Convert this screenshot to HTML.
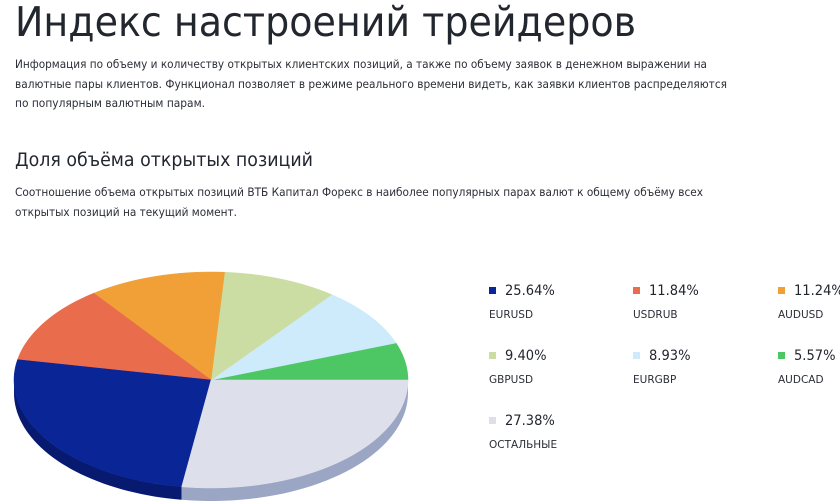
<!DOCTYPE html>
<html><head><meta charset="utf-8"><style>
html,body{margin:0;padding:0;background:#fff;width:840px;height:504px;overflow:hidden}
svg{display:block;font-family:"DejaVu Sans","Liberation Sans",sans-serif}
</style></head><body>
<svg id="c" width="840" height="504" viewBox="0 0 840 504">
<text x="15" y="36" font-size="41" fill="#22262e" textLength="621" lengthAdjust="spacingAndGlyphs">Индекс настроений трейдеров</text>
<g font-size="11.5" fill="#2a2e36">
<text x="15" y="68" textLength="692" lengthAdjust="spacingAndGlyphs">Информация по объему и количеству открытых клиентских позиций, а также по объему заявок в денежном выражении на</text>
<text x="15" y="88" textLength="712" lengthAdjust="spacingAndGlyphs">валютные пары клиентов. Функционал позволяет в режиме реального времени видеть, как заявки клиентов распределяются</text>
<text x="15" y="107" textLength="190" lengthAdjust="spacingAndGlyphs">по популярным валютным парам.</text>
</g>
<text x="15" y="166" font-size="19" fill="#22262e" textLength="298" lengthAdjust="spacingAndGlyphs">Доля объёма открытых позиций</text>
<g font-size="11.5" fill="#2a2e36">
<text x="15" y="196" textLength="688" lengthAdjust="spacingAndGlyphs">Соотношение объема открытых позиций ВТБ Капитал Форекс в наиболее популярных парах валют к общему объёму всех</text>
<text x="15" y="216" textLength="222" lengthAdjust="spacingAndGlyphs">открытых позиций на текущий момент.</text>
</g>
<g id="pie"></g>
<g id="legend"></g>
</svg>
<script>
const labels = ["AUDCAD","EURGBP","GBPUSD","AUDUSD","USDRUB","EURUSD","ОСТАЛЬНЫЕ"];
const values = [5.57, 8.93, 9.40, 11.24, 11.84, 25.64, 27.38];
const topColors = ["#4dc764","#cdebfb","#cbdda3","#f0a037","#e96c4c","#0a2596","#dde0ea"];
const sideColors = ["#3a9c4e","#9fbccc","#a3b382","#c07f2a","#b9553c","#071a70","#9aa6c4"];
const legendOrder = [5,4,3,2,1,0,6];

const NS="http://www.w3.org/2000/svg";
const cx=211, cy=380, rx=197, ry=108, depth=13;
const pie=document.getElementById('pie');
const total=values.reduce((a,b)=>a+b,0);
function pt(t,dy){return [cx+rx*Math.cos(t), cy-ry*Math.sin(t)+(dy||0)];}
const angles=[];let acc=0;
values.forEach(v=>{const a0=acc/total*2*Math.PI;acc+=v;angles.push([a0,acc/total*2*Math.PI]);});
angles.forEach((a,i)=>{
  const s=Math.max(a[0],Math.PI), e=Math.min(a[1],2*Math.PI);
  if(e<=s) return;
  let d='';const n=40;
  for(let k=0;k<=n;k++){const t=s+(e-s)*k/n;const p=pt(t);d+=(k?'L':'M')+p[0].toFixed(2)+' '+p[1].toFixed(2);}
  for(let k=n;k>=0;k--){const t=s+(e-s)*k/n;const p=pt(t,depth);d+='L'+p[0].toFixed(2)+' '+p[1].toFixed(2);}
  const path=document.createElementNS(NS,'path');
  path.setAttribute('d',d+'Z');path.setAttribute('fill',sideColors[i]);
  
  
  pie.appendChild(path);
});
angles.forEach((a,i)=>{
  let d='M'+cx+' '+cy;const n=60;
  for(let k=0;k<=n;k++){const t=a[0]+(a[1]-a[0])*k/n;const p=pt(t);d+='L'+p[0].toFixed(2)+' '+p[1].toFixed(2);}
  const path=document.createElementNS(NS,'path');
  path.setAttribute('d',d+'Z');path.setAttribute('fill',topColors[i]);
  path.setAttribute('stroke',topColors[i]);path.setAttribute('stroke-width','0.5');
  
  
  pie.appendChild(path);
});
const lg=document.getElementById('legend');
const colX=[489,633,778], rowY=[290,355,420];
legendOrder.forEach((idx,k)=>{
  const x=colX[k%3], y=rowY[Math.floor(k/3)];
  const g=document.createElementNS(NS,'g');
  
  
  const r=document.createElementNS(NS,'rect');
  r.setAttribute('x',x);r.setAttribute('y',y-3);r.setAttribute('width',7);r.setAttribute('height',7);
  r.setAttribute('fill',topColors[idx]);
  
  
  g.appendChild(r);
  const t=document.createElementNS(NS,'text');
  const txt=values[idx].toFixed(2)+'%';
  t.setAttribute('x',x+16);t.setAttribute('y',y+5);t.setAttribute('font-size','14');t.setAttribute('fill','#22262e');
  t.setAttribute('textLength',String(txt.length*8.3));
  t.setAttribute('lengthAdjust','spacingAndGlyphs');
  t.textContent=txt;
  
  
  g.appendChild(t);
  const l=document.createElementNS(NS,'text');
  l.setAttribute('x',x);l.setAttribute('y',y+28);l.setAttribute('font-size','10.5');l.setAttribute('fill','#2a2e36');
  l.textContent=labels[idx];
  
  
  g.appendChild(l);
  lg.appendChild(g);
});
</script>
</body></html>
